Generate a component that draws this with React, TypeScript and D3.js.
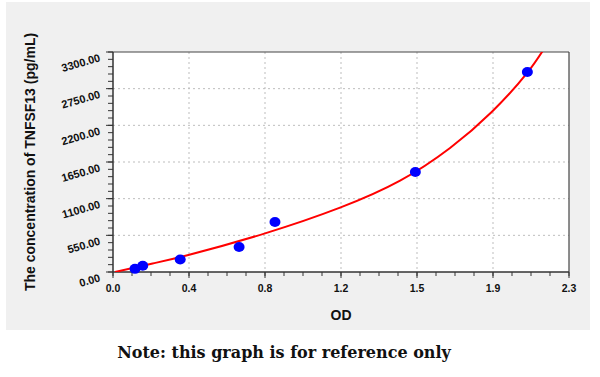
import React from "react";
import * as d3 from "d3";

// Standard points (OD, concentration pg/mL)
const pointOD = [0.111, 0.15, 0.339, 0.636, 0.817, 1.525, 2.09];
const pointConc = [46.88, 93.75, 187.5, 375, 750, 1500, 3000];

// Fitted curve
const curveOD = [0.01, 0.2, 0.38, 0.767, 1.145, 1.448, 1.7, 1.91, 2.09, 2.2];
const curveConc = [0, 128, 255, 580, 965, 1370, 1860, 2400, 2990, 3470];

const xTickLabels = ["0.0", "0.4", "0.8", "1.2", "1.5", "1.9", "2.3"];
const yTickValues = [0, 550, 1100, 1650, 2200, 2750, 3300];

const xTitle = "OD";
const yTitle = "The concentration of TNFSF13 (pg/mL)";
const note = "Note: this graph is for reference only";

const W = 600;
const H = 377;
const plot = { left: 113, right: 569, top: 52, bottom: 272 };
const xMax = 2.3;
const yMax = 3300;

export default function App() {
  const x = d3.scaleLinear().domain([0, xMax]).range([plot.left, plot.right]);
  const y = d3.scaleLinear().domain([0, yMax]).range([plot.bottom, plot.top]);

  const nX = xTickLabels.length - 1;
  const xMajor = d3.range(nX + 1).map((i) => (i * xMax) / nX);
  const xMinor = d3.range(nX * 4 + 1).map((i) => (i * xMax) / (nX * 4));
  const yMinor = d3.range((yTickValues.length - 1) * 5 + 1).map((i) => (i * yMax) / ((yTickValues.length - 1) * 5));

  const curveData = curveOD.map((v, i) => [v, curveConc[i]] as [number, number]);
  const line = d3
    .line<[number, number]>()
    .x((d) => x(d[0]))
    .y((d) => y(d[1]))
    .curve(d3.curveNatural);

  const fmtY = d3.format(".2f");
  const font = "'Liberation Sans', Arial, sans-serif";

  return (
    <svg
      width={W}
      height={H}
      style={{ position: "absolute", left: 0, top: 0, background: "#fff" }}
    >
      <defs>
        <clipPath id="plotClip">
          <rect x={plot.left} y={plot.top} width={plot.right - plot.left} height={plot.bottom - plot.top} />
        </clipPath>
      </defs>
      <rect x={6} y={2} width={584} height={328} fill="#f0f0f0" />
      <rect x={plot.left} y={plot.top} width={plot.right - plot.left} height={plot.bottom - plot.top} fill="#fff" />

      {/* grid */}
      {xMajor.slice(1, -1).map((v, i) => (
        <line key={"gx" + i} x1={x(v)} x2={x(v)} y1={plot.top} y2={plot.bottom} stroke="#bdbdbd" strokeWidth={1} strokeDasharray="2,3" />
      ))}
      {yTickValues.slice(1, -1).map((v, i) => (
        <line key={"gy" + i} x1={plot.left} x2={plot.right} y1={y(v)} y2={y(v)} stroke="#bdbdbd" strokeWidth={1} strokeDasharray="2,3" />
      ))}

      {/* border */}
      <line x1={plot.left} x2={plot.right} y1={plot.top} y2={plot.top} stroke="#444" strokeWidth={1.2} />
      <line x1={plot.right} x2={plot.right} y1={plot.top} y2={plot.bottom} stroke="#444" strokeWidth={1.2} />

      {/* x axis */}
      {xMinor.map((v, i) => (
        <line key={"xm" + i} x1={x(v)} x2={x(v)} y1={plot.bottom} y2={plot.bottom + 4} stroke="#333" strokeWidth={1} />
      ))}
      {xMajor.map((v, i) => (
        <g key={"xt" + i}>
          <line x1={x(v)} x2={x(v)} y1={plot.bottom} y2={plot.bottom + 6} stroke="#333" strokeWidth={1} />
          <text x={x(v)} y={292} textAnchor="middle" fontFamily={font} fontWeight="bold" fontSize={10.5} fill="#111">
            {xTickLabels[i]}
          </text>
        </g>
      ))}
      <line x1={plot.left} x2={plot.right} y1={plot.bottom} y2={plot.bottom} stroke="#333" strokeWidth={1.5} />

      {/* y axis */}
      {yMinor.map((v, i) => (
        <line key={"ym" + i} x1={plot.left - 5} x2={plot.left} y1={y(v)} y2={y(v)} stroke="#333" strokeWidth={1} />
      ))}
      {yTickValues.map((v, i) => (
        <g key={"yt" + i}>
          <line x1={plot.left - 7} x2={plot.left} y1={y(v)} y2={y(v)} stroke="#333" strokeWidth={1} />
          <text
            x={101}
            y={y(v) + 9}
            transform={`rotate(-16, 101, ${y(v) + 9})`}
            textAnchor="end"
            fontFamily={font}
            fontWeight="bold"
            fontSize={11}
            fill="#111"
          >
            {fmtY(v)}
          </text>
        </g>
      ))}
      <line x1={plot.left} x2={plot.left} y1={plot.top} y2={plot.bottom} stroke="#333" strokeWidth={1.5} />

      {/* curve */}
      <path d={line(curveData) || ""} fill="none" stroke="#ff0000" strokeWidth={2} clipPath="url(#plotClip)" />

      {/* points */}
      {pointOD.map((v, i) => (
        <ellipse key={"p" + i} cx={x(v)} cy={y(pointConc[i])} rx={5.5} ry={5} fill="#0000ff" />
      ))}

      {/* titles */}
      <text x={(plot.left + plot.right) / 2} y={320} textAnchor="middle" fontFamily={font} fontWeight="bold" fontSize={14} fill="#111">
        {xTitle}
      </text>
      <text
        x={35}
        y={(plot.top + plot.bottom) / 2}
        transform={`rotate(-90, 35, ${(plot.top + plot.bottom) / 2})`}
        textAnchor="middle"
        fontFamily={font}
        fontWeight="bold"
        fontSize={14}
        fill="#111"
      >
        {yTitle}
      </text>

      <text x={284} y={358} textAnchor="middle" fontFamily="'DejaVu Serif', serif" fontWeight="bold" fontSize={16} fill="#111">
        {note}
      </text>
    </svg>
  );
}
